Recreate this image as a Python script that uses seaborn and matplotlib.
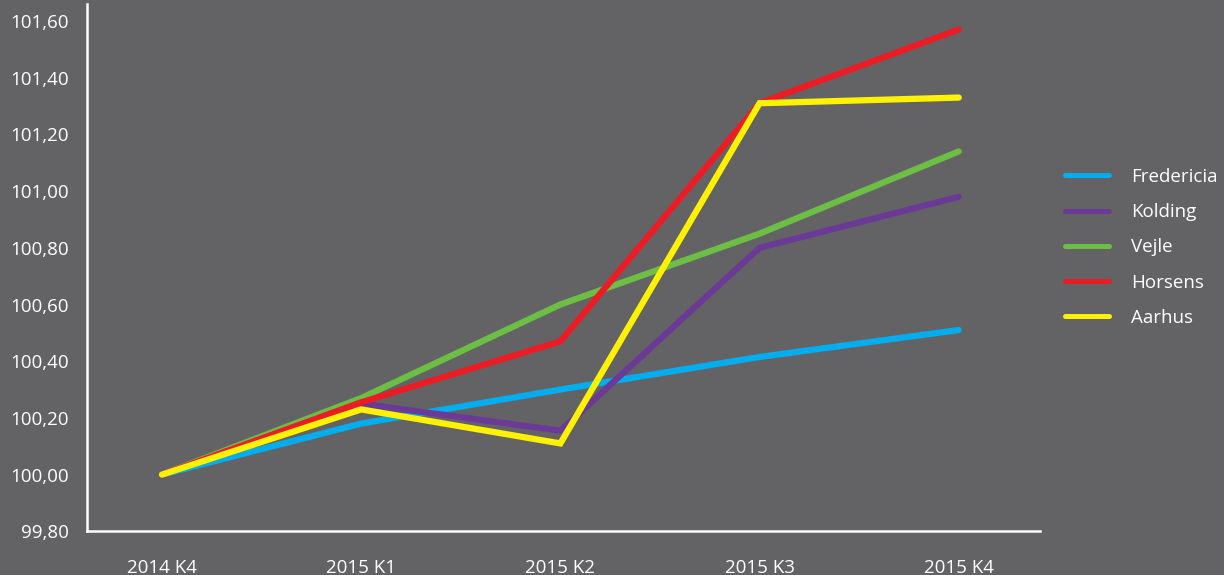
import pandas as pd
import matplotlib.pyplot as plt
import seaborn as sns

# Quarters and index values per city (2014 K4 = 100)
quarters = ["2014 K4", "2015 K1", "2015 K2", "2015 K3", "2015 K4"]
fredericia = [100.00, 100.18, 100.30, 100.415, 100.51]
kolding = [100.00, 100.25, 100.155, 100.80, 100.98]
vejle = [100.00, 100.27, 100.60, 100.85, 101.14]
horsens = [100.00, 100.255, 100.47, 101.31, 101.57]
aarhus = [100.00, 100.23, 100.11, 101.31, 101.33]

cities = ["Fredericia", "Kolding", "Vejle", "Horsens", "Aarhus"]
colors = ["#00AEEF", "#6B3A97", "#6DBE45", "#ED1C24", "#FFF200"]

series = [fredericia, kolding, vejle, horsens, aarhus]
rows = []
for city, vals in zip(cities, series):
    for i, v in enumerate(vals):
        rows.append({"pos": i, "quarter": quarters[i], "city": city, "value": v})
df = pd.DataFrame(rows)

bg = "#636365"
sns.set_style("dark")
plt.rcParams["font.family"] = ["Open Sans", "DejaVu Sans"]

fig = plt.figure(figsize=(12.24, 5.75), dpi=100, facecolor=bg)
ax = fig.add_axes([0.071, 0.076, 0.779, 0.917])
ax.set_facecolor(bg)

sns.lineplot(data=df, x="pos", y="value", hue="city", hue_order=cities,
             palette=colors, linewidth=4.5, ax=ax, legend=True,
             solid_capstyle="round", solid_joinstyle="miter")

ax.set_xlim(-0.377, 4.41)
ax.set_ylim(99.8, 101.66)
ax.set_xticks(range(len(quarters)))
ax.set_xticklabels(quarters)
yt = [99.8 + 0.2 * i for i in range(10)]
ax.set_yticks(yt)
ax.set_yticklabels([f"{t:.2f}".replace(".", ",") for t in yt])
ax.tick_params(axis="both", colors="white", labelsize=13.5, length=0)
ax.tick_params(axis="y", pad=13)
ax.tick_params(axis="x", pad=20)
ax.set_xlabel("")
ax.set_ylabel("")
ax.grid(False)

for side in ["top", "right"]:
    ax.spines[side].set_visible(False)
for side in ["left", "bottom"]:
    ax.spines[side].set_visible(True)
    ax.spines[side].set_color("white")
    ax.spines[side].set_linewidth(1.8)

leg = ax.legend(loc="upper left", bbox_to_anchor=(0.870, 0.708),
                bbox_transform=fig.transFigure, frameon=False,
                borderpad=0, borderaxespad=0,
                fontsize=13.5, labelcolor="white", handlelength=2.35,
                handletextpad=1.2, labelspacing=0.92)
for line in leg.get_lines():
    line.set_linewidth(3.6)
    line.set_solid_capstyle("round")

fig.savefig("out.png", dpi=100, facecolor=bg)
